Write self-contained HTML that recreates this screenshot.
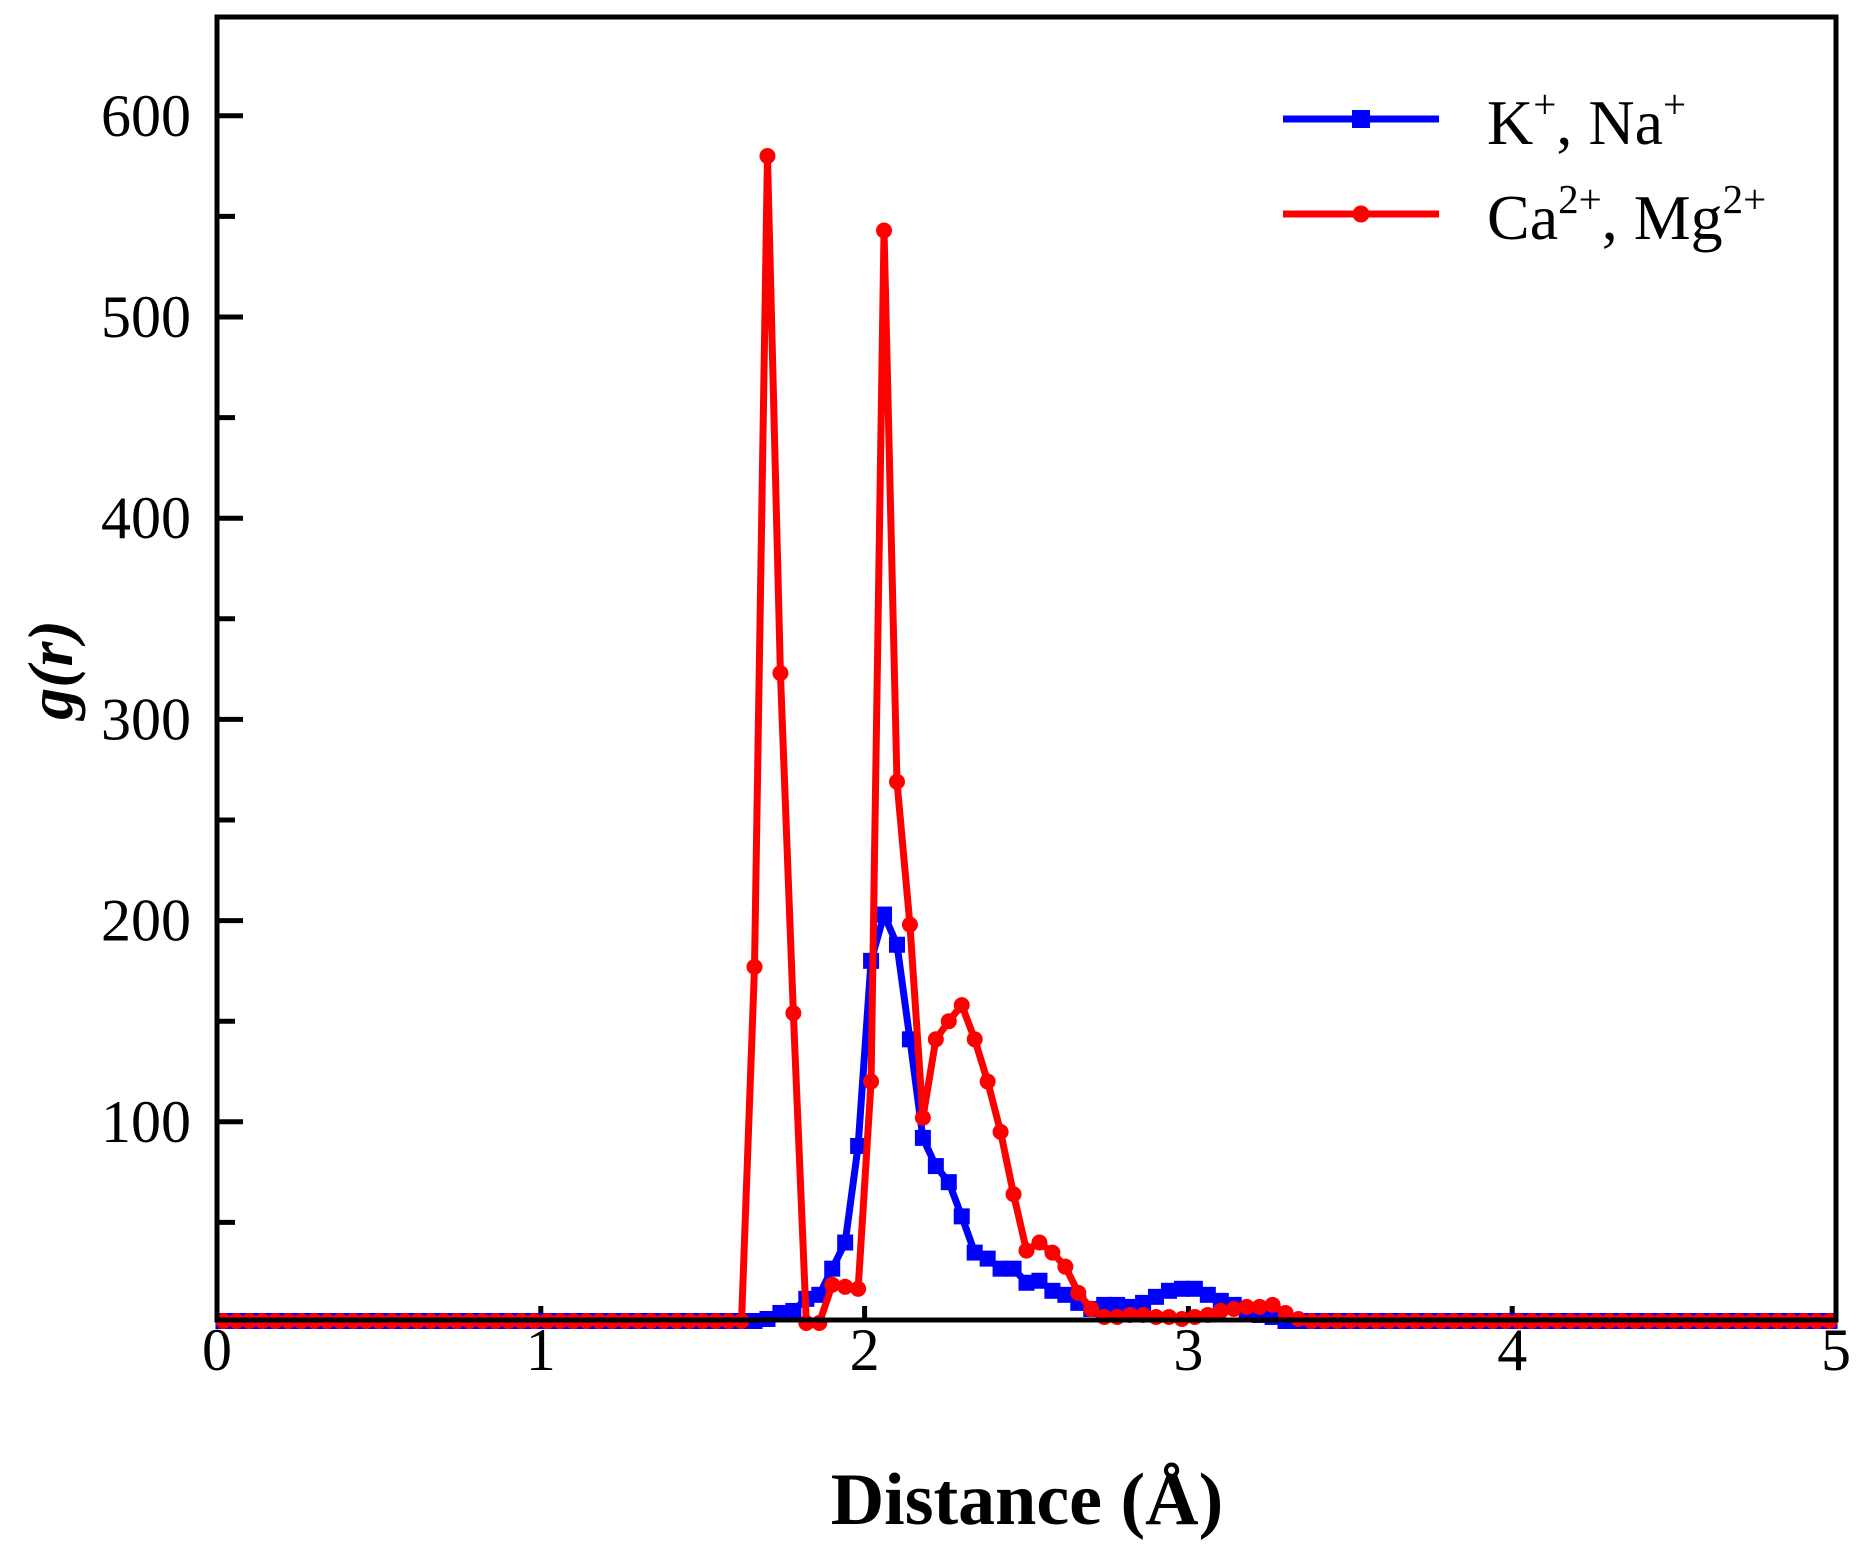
<!DOCTYPE html>
<html><head><meta charset="utf-8"><style>
html,body{margin:0;padding:0;background:#fff;}
svg{display:block;font-family:"Liberation Serif",serif;}
</style></head><body>
<svg id="s" width="1860" height="1548" xmlns="http://www.w3.org/2000/svg">
<rect width="1860" height="1548" fill="#fff"/>
<g id="ticks" stroke="#000" stroke-width="5"></g>
<g id="data"></g>
<rect x="217" y="17" width="1619" height="1303" fill="none" stroke="#000" stroke-width="5"/>
<g font-size="60" fill="#000" id="lbl"></g>
<text x="1027" y="1524" font-size="74" font-weight="bold" text-anchor="middle">Distance (Å)</text>
<text transform="translate(72,670) rotate(-90)" font-size="64" font-weight="bold" font-style="italic" text-anchor="middle">g(r)</text>
<line x1="1283" y1="119" x2="1439" y2="119" stroke="#0000ff" stroke-width="7"/>
<rect x="1352" y="110" width="18" height="18" fill="#0000ff"/>
<text x="1487" y="144" font-size="64">K<tspan dy="-26" font-size="41">+</tspan><tspan dy="26">, Na</tspan><tspan dy="-26" font-size="41">+</tspan></text>
<line x1="1283" y1="214" x2="1439" y2="214" stroke="#ff0000" stroke-width="7"/>
<circle cx="1361" cy="214" r="8.5" fill="#ff0000"/>
<text x="1487" y="239" font-size="64">Ca<tspan dy="-26" font-size="41">2+</tspan><tspan dy="26">, Mg</tspan><tspan dy="-26" font-size="41">2+</tspan></text>
</svg>
<script>
const X=v=>217+v*323.8, Y=v=>1323-v*2.012;
const NS="http://www.w3.org/2000/svg";
function el(p,t,a){const e=document.createElementNS(NS,t);for(const k in a)e.setAttribute(k,a[k]);p.appendChild(e);return e;}
const tk=document.getElementById('ticks'),lb=document.getElementById('lbl');
for(let i=0;i<=5;i++){el(tk,'line',{x1:X(i),y1:1320,x2:X(i),y2:1306});const t=el(lb,'text',{x:X(i),y:1370,'text-anchor':'middle'});t.textContent=i;}
for(let v=50;v<=600;v+=50){const maj=v%100==0;el(tk,'line',{x1:217,y1:Y(v),x2:217+(maj?26:18),y2:Y(v)});
 if(maj){const t=el(lb,'text',{x:191,y:Y(v)+20,'text-anchor':'end'});t.textContent=v;}}
const red={1.62:1,1.66:177,1.70:580,1.74:323,1.78:154,1.82:0,1.86:0,1.90:19,1.94:18,1.98:17,2.02:120,2.06:543,2.10:269,2.14:198,2.18:102,2.22:141,2.26:150,2.30:158,2.34:141,2.38:120,2.42:95,2.46:64,2.50:36,2.54:40,2.58:35,2.62:28,2.66:15,2.70:7,2.74:3,2.78:3,2.82:4,2.86:4,2.90:3,2.94:3,2.98:2,3.02:3,3.06:4,3.10:6,3.14:7,3.18:8,3.22:8,3.26:9,3.30:5,3.34:2};
const blue={1.70:2,1.74:5,1.78:6,1.82:12,1.86:14,1.90:27,1.94:40,1.98:88,2.02:180,2.06:203,2.10:188,2.14:141,2.18:92,2.22:78,2.26:70,2.30:53,2.34:35,2.38:32,2.42:27,2.46:27,2.50:20,2.54:21,2.58:16,2.62:14,2.66:10,2.70:7,2.74:9,2.78:9,2.82:8,2.86:10,2.90:13,2.94:16,2.98:17,3.02:17,3.06:14,3.10:11,3.14:9,3.18:6,3.22:4,3.26:3,3.30:1};
const dg=document.getElementById('data');
function series(d,col,sq){const pts=[];for(let i=0;i<=124;i++){const x=+(0.02+i*0.04).toFixed(2);let v=d[x]!==undefined?d[x]:1;pts.push([X(x),Y(v)]);}
 el(dg,'polyline',{points:pts.map(p=>p.join(',')).join(' '),fill:'none',stroke:col,'stroke-width':7,'stroke-linejoin':'round'});
 pts.forEach(p=>{if(sq)el(dg,'rect',{x:p[0]-8,y:p[1]-8,width:16,height:16,fill:col});else el(dg,'circle',{cx:p[0],cy:p[1],r:8,fill:col});});}
series(blue,'#0000ff',true);series(red,'#ff0000',false);
</script>
</body></html>
